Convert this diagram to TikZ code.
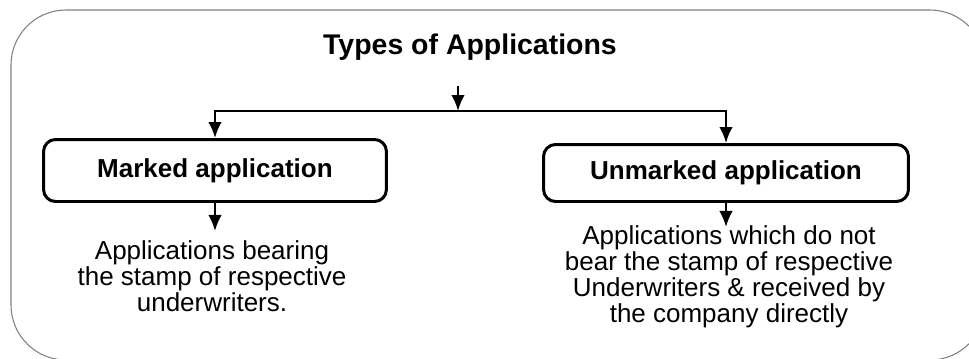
\documentclass[tikz,border=0pt]{standalone}
\usepackage{fontspec}
\setmainfont{Liberation Sans}
\usepackage{tikz}
\usetikzlibrary{arrows.meta,positioning}

\tikzset{
    titletext/.style={font=\fontsize{16.2}{19}\selectfont\bfseries, inner sep=0pt},
    appbox/.style={draw, line width=1.7pt, rounded corners=0.24cm,
        font=\fontsize{14.8}{17}\selectfont\bfseries, inner sep=0pt},
    desctext/.style={align=center, font=\fontsize{14.8}{13.6}\selectfont, inner sep=0pt},
    flow/.style={-{Latex[length=0.32cm,width=0.27cm]}, line width=1.2pt}
}

\begin{document}
\begin{tikzpicture}[x=0.02cm, y=-0.02cm]
    \useasboundingbox (0,0) rectangle (969,358);
    \clip (0,0) rectangle (969,358);
    % outer frame
    \draw[gray, line width=0.6pt, rounded corners=1.1cm] (11,10) rectangle (985,360);
    %
    \node[titletext, anchor=base] (title) at (470,55) {Types of Applications};
    \coordinate (titlearrow) at (458,86);
    \coordinate (split) at (458,111);
    \draw[flow] (titlearrow) -- (split);
    %%%%%%%%%%%%%%%%%%%%%%%%%%%%%%%%%%%%%
    \node[appbox, minimum width=6.86cm, minimum height=1.24cm] (marked) at (215,170.5) {Marked application};
    \node[appbox, minimum width=7.3cm, minimum height=1.14cm] (unmarked) at (726,173) {Unmarked application};
    \draw[flow] (split) -| (marked.north);
    \draw[flow] (split) -| (unmarked.north);
    %
    \node[desctext, anchor=base] (markeddesc) at (212,311) {Applications bearing\\the stamp of respective\\underwriters.};
    \node[desctext, anchor=base] (unmarkeddesc) at (729,322) {Applications which do not\\bear the stamp of respective\\Underwriters \& received by\\the company directly};
    \draw[flow] (marked.south) -- ++(0,28);
    \draw[flow] (unmarked.south) -- ++(0,24);
\end{tikzpicture}
\end{document}
